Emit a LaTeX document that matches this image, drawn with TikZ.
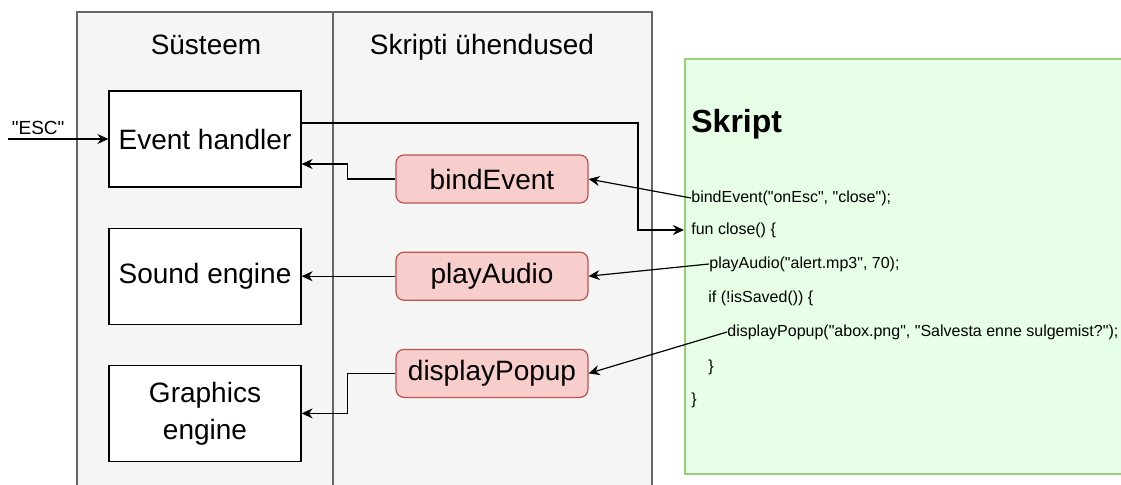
\documentclass[tikz,border=0pt]{standalone}
\usepackage{fontspec}
\setmainfont{Liberation Sans}[Ligatures=TeXOff]
\usetikzlibrary{positioning,arrows.meta}
\definecolor{panelgray}{HTML}{F5F5F5}
\definecolor{panelline}{HTML}{666666}
\definecolor{callfill}{HTML}{F8CECC}
\definecolor{callline}{HTML}{B85450}
\definecolor{codefill}{HTML}{E6FFE6}
\definecolor{codeline}{HTML}{97D077}

\begin{document}
\begin{tikzpicture}[x=0.5pt, y=-0.5pt,
  sysbox/.style={draw, line width=0.6pt, fill=white, minimum width=96pt, minimum height=48pt,
    align=center, font=\fontsize{14}{18.5}\selectfont},
  callbox/.style={draw=callline, fill=callfill, rounded corners=4pt, line width=0.6pt,
    minimum width=96pt, minimum height=24pt, font=\fontsize{14}{17}\selectfont},
  codeln/.style={anchor=west, inner sep=0pt, font=\fontsize{8}{10}\selectfont},
  arr/.style={-{Stealth[length=5.5pt,width=5pt]}, line width=0.6pt}]

\useasboundingbox (0,0) rectangle (1121,484);
\clip (0,0) rectangle (1121,484);

%%%%%%%%%%%%%%% columns %%%%%%%%%%%%%%%%
\draw [panelline, fill = panelgray, line width=0.6pt] (77,12) rectangle (333,500);
\draw [panelline, fill = panelgray, line width=0.6pt] (333,12) rectangle (652,500);
\node [font=\fontsize{14}{17}\selectfont] (systitle) at (206,45) {Süsteem};
\node [font=\fontsize{14}{17}\selectfont] (calltitle) at (482,47) {Skripti ühendused};

%%%%%%%%%%%%%%% system parts %%%%%%%%%%%%%%%%
\node [sysbox] (handler) at (205,139) {Event handler};
\node [sysbox] (sound) [below=20pt of handler] {Sound engine};
\node [sysbox] (graphics) [below=20pt of sound] {Graphics\\engine};

%%%%%%%%%%%%%%% script bindings %%%%%%%%%%%%%%%%
\node [callbox] (bind) at (492,179) {bindEvent};
\node [callbox] (play) [below=24pt of bind] {playAudio};
\node [callbox] (popup) [below=24pt of play] {displayPopup};

%%%%%%%%%%%%%%% script %%%%%%%%%%%%%%%%
\node [draw=codeline, fill=codefill, line width=0.8pt, anchor=north west,
  minimum width=230pt, minimum height=207.5pt] (skript) at (684,58) {};
\node [anchor=west, inner sep=0pt, font=\fontsize{16}{19}\selectfont\bfseries] (skripttitle) at (691,124) {Skript};
\node [codeln] (code1) at (691,198) {bindEvent("onEsc", "close");};
\node [codeln] (code2) at (691,230) {fun close() \{};
\node [codeln] (code3) at (709,264) {playAudio("alert.mp3", 70);};
\node [codeln] (code4) at (708,298) {if (!isSaved()) \{};
\node [codeln] (code5) at (727,332) {displayPopup("abox.png", "Salvesta enne sulgemist?");};
\node [codeln] (code6) at (708,367) {\}};
\node [codeln] (code7) at (691,400) {\}};

%%%%%%%%%%%%%%% connectors %%%%%%%%%%%%%%%%
\coordinate (esc) at (8,139);
\draw [arr] (esc) -- node [above, pos=0.3, inner sep=2pt, font=\fontsize{9.5}{11}\selectfont] {"ESC"} (handler.west);
\draw [arr] ([yshift=8pt]handler.east) -| ([xshift=-23pt]skript.west |- code2) -- (skript.west |- code2);
\draw [arr] (bind.west) -- ++(-24pt,0) |- ([yshift=-12.5pt]handler.east);
\draw [arr] (play.west) -- (sound.east);
\draw [arr] (popup.west) -- ++(-24pt,0) |- (graphics.east);
\draw [arr] (code1.west) -- (bind.east);
\draw [arr] (code3.west) -- (play.east);
\draw [arr] (code5.west) -- (popup.east);

\end{tikzpicture}
\end{document}
